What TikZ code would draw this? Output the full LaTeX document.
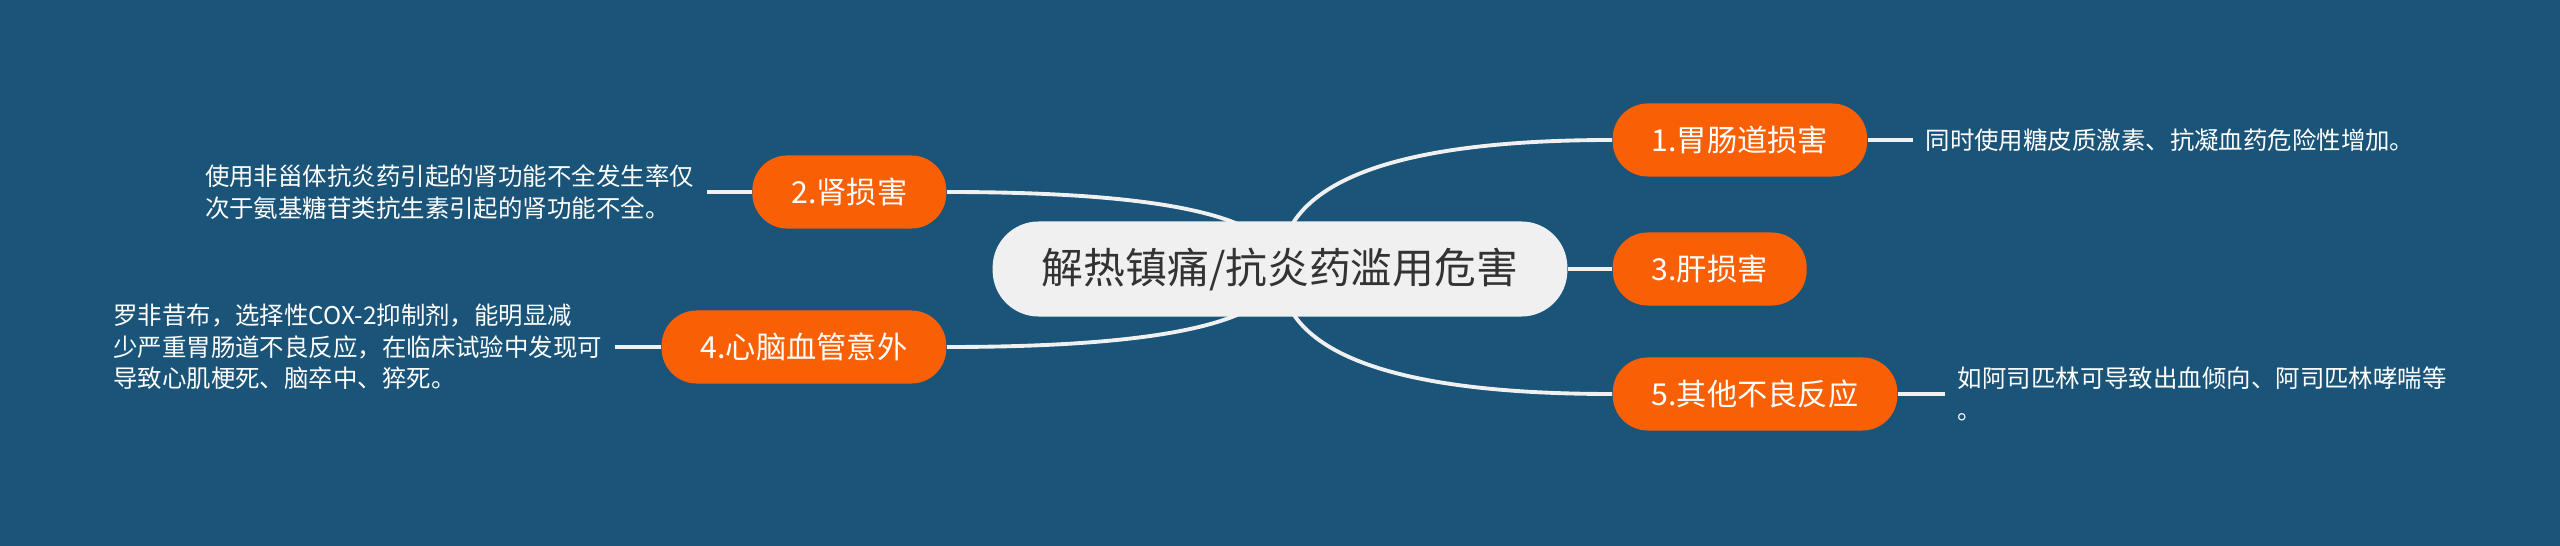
\documentclass[tikz,border=0pt]{standalone}
\usepackage{fontspec}
\newfontfamily\cjkfont{Noto Sans CJK SC}
\usetikzlibrary{positioning,calc}

\definecolor{bgblue}{HTML}{1A5478}
\definecolor{topicorange}{HTML}{F96006}
\definecolor{rootgray}{HTML}{F0F0F0}
\definecolor{rootink}{HTML}{333333}

\pgfdeclarelayer{back}
\pgfdeclarelayer{links}
\pgfsetlayers{back,links,main}

\tikzset{
  rootbox/.style={fill=rootgray, text=rootink, rounded corners=0.46cm,
    minimum height=0.95cm, inner xsep=0.49cm,
    font=\cjkfont\fontsize{11.9pt}{14pt}\selectfont},
  topicbox/.style={fill=topicorange, text=white, rounded corners=0.35cm,
    minimum height=0.73cm, inner xsep=0.39cm,
    font=\cjkfont\fontsize{8.6pt}{10pt}\selectfont},
  notebox/.style={text=white, align=left, inner xsep=0.12cm, inner ysep=0pt,
    font=\cjkfont\fontsize{6.95pt}{9pt}\selectfont},
  link/.style={draw=rootgray, line width=1.1pt},
}

\begin{document}
\begin{tikzpicture}[x=0.01cm, y=-0.01cm]
  \begin{pgfonlayer}{back}
    \fill[bgblue] (0,0) rectangle (2560,546);
  \end{pgfonlayer}
  \useasboundingbox (0,0) rectangle (2560,546);

  \node[rootbox] (root) at (1280,269) {解热镇痛/抗炎药滥用危害};

  % right side
  \node[topicbox, anchor=west] (gut) at (1612,140) {1.胃肠道损害};
  \node[topicbox, anchor=west] (liver) at (1612,269) {3.肝损害};
  \node[topicbox, anchor=west] (other) at (1612,394) {5.其他不良反应};

  % left side
  \node[topicbox, anchor=east] (kidney) at (947,192) {2.肾损害};
  \node[topicbox, anchor=east] (heart) at (947,347) {4.心脑血管意外};

  \node[notebox, right=0.45cm of gut] (gutnote)
    {同时使用糖皮质激素、抗凝血药危险性增加。};
  \node[notebox, right=0.47cm of other] (othernote)
    {如阿司匹林可导致出血倾向、阿司匹林哮喘等\\。};
  \node[notebox, left=0.45cm of kidney] (kidneynote)
    {使用非甾体抗炎药引起的肾功能不全发生率仅\\次于氨基糖苷类抗生素引起的肾功能不全。};
  \node[notebox, left=0.46cm of heart] (heartnote)
    {罗非昔布，选择性COX-2抑制剂，能明显减\\少严重胃肠道不良反应，在临床试验中发现可\\导致心肌梗死、脑卒中、猝死。};

  \begin{pgfonlayer}{links}
    \foreach \topic/\side in {gut/west, other/west, kidney/east, heart/east}
      \draw[link] (root.center)
        .. controls ($(root.center)!2/3!(root.center |- \topic.\side)$)
        and ($(\topic.\side)!2/3!(root.center |- \topic.\side)$) .. (\topic.\side);
    \draw[link] (root.east) -- (liver.west);
    \draw[link] (gut) -- (gutnote);
    \draw[link] (other) -- (othernote);
    \draw[link] (kidney) -- (kidneynote);
    \draw[link] (heart) -- (heartnote);
  \end{pgfonlayer}
\end{tikzpicture}
\end{document}
